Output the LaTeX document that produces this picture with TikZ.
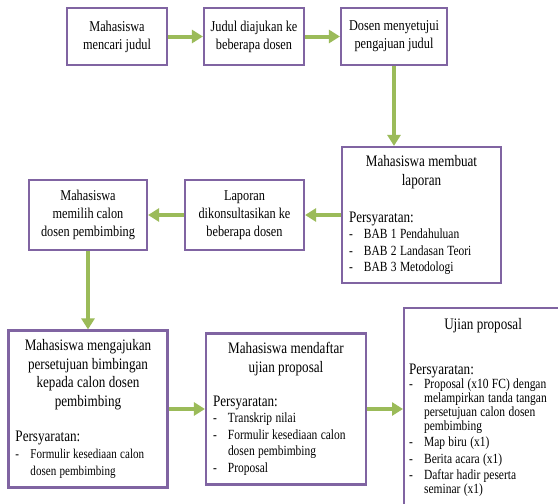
\documentclass[tikz,border=0pt]{standalone}
\usepackage{fontspec}
\setmainfont[FakeStretch=0.82]{Liberation Serif}
\usetikzlibrary{arrows.meta,positioning}
\definecolor{ungu}{RGB}{128,100,162}
\definecolor{hijau}{RGB}{155,187,89}
\newcommand{\kecil}{\fontsize{15}{18}\selectfont}
\newcommand{\besar}{\fontsize{16}{18.5}\selectfont}
\newcommand{\syarat}[1]{\par\vspace{#1}\raggedright\fontsize{16}{18}\selectfont Persyaratan:\par}
\newcommand{\butir}[1]{\par\noindent\hangindent=15pt\hangafter=1\makebox[15pt][l]{-}#1}

\begin{document}
\begin{tikzpicture}[x=1pt,y=-1pt,
		kotak/.style={draw=ungu, line width=2.2pt, fill=white, inner sep=0pt, align=center, font=\kecil},
		tinggi/.style={draw=ungu, line width=2.2pt, fill=white, inner xsep=7pt, inner ysep=4pt},
		panah/.style={draw=hijau, line width=4pt, -{Triangle[length=11pt,width=13pt]}}]
		\path[use as bounding box, clip] (0,0) rectangle (558,504);
		\fill[white] (0,0) rectangle (558,504);

		\node[kotak, minimum width=100, minimum height=57] (cari) at (117,36.5) {Mahasiswa\\mencari judul};
		\node[kotak, minimum width=100, minimum height=57] (ajukan) at (254,36.5) {Judul diajukan ke\\beberapa dosen};
		\node[kotak, minimum width=106, minimum height=57] (setuju) at (394,36.5) {Dosen menyetujui\\pengajuan judul};

		\node[tinggi, text width=145, minimum height=136] (laporan) at (421.5,215) {\besar\centering Mahasiswa membuat\\laporan\syarat{19pt}\fontsize{14}{16.5}\selectfont
			\butir{BAB 1 Pendahuluan}\butir{BAB 2 Landasan Teori}\butir{BAB 3 Metodologi}\par};
		\node[kotak, minimum width=119, minimum height=70] (konsul) at (244.5,215) {Laporan\\dikonsultasikan ke\\beberapa dosen};
		\node[kotak, minimum width=118, minimum height=70] (pilih) at (88,215) {Mahasiswa\\memilih calon\\dosen pembimbing};

		\node[tinggi, text width=145, minimum height=157] (aju) at (88,409) {\besar\centering Mahasiswa mengajukan\\persetujuan bimbingan\\kepada calon dosen\\pembimbing\syarat{17pt}\fontsize{13.5}{17}\selectfont
			\butir{Formulir kesediaan calon dosen pembimbing}\par};
		\node[tinggi, text width=146, minimum height=151] (daftar) at (286,409) {\besar\centering Mahasiswa mendaftar\\ujian proposal\syarat{16pt}\fontsize{14}{16.5}\selectfont
			\butir{Transkrip nilai}\butir{Formulir kesediaan calon dosen pembimbing}\butir{Proposal}\par};
		\node[tinggi, anchor=north west, inner xsep=5pt, inner ysep=10pt, text width=148] (ujian) at (403,307) {\besar\centering Ujian proposal\syarat{27pt}\fontsize{14}{14}\selectfont
			\butir{Proposal (x10 FC) dengan melampirkan tanda tangan persetujuan calon dosen pembimbing}\par\vspace{2.5pt}\butir{Map biru (x1)}\par\vspace{2.5pt}\butir{Berita acara (x1)}\par\vspace{2.5pt}\butir{Daftar hadir peserta\newline seminar (x1)}\par};

		\draw[panah] (cari) -- (ajukan);
		\draw[panah] (ajukan) -- (setuju);
		\draw[panah] (setuju.south) -- (setuju.south |- laporan.north);
		\draw[panah] (laporan.west) -- (konsul.east);
		\draw[panah] (konsul.west) -- (pilih.east);
		\draw[panah] (pilih.south) -- (pilih.south |- aju.north);
		\draw[panah] (aju.east) -- (daftar.west);
		\draw[panah] (daftar.east) -- (daftar.east -| ujian.west);
	\end{tikzpicture}
\end{document}
